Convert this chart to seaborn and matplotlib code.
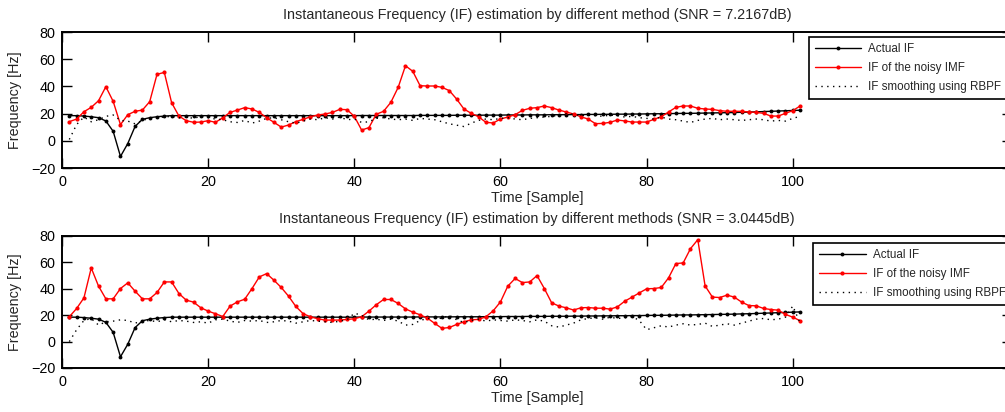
import numpy as np
import pandas as pd
import matplotlib
matplotlib.use("Agg")
import matplotlib.pyplot as plt
import seaborn as sns

# ---------------- data ----------------
samples = list(range(1, 102))

actual_if = [18.5, 18.5, 18.2, 17.7, 17.0, 14.6, 7.0, -11.5, -2.0, 10.6,
             15.8, 17.0, 17.7, 18.2, 18.5,
             18.5, 18.5, 18.5, 18.5, 18.5, 18.5, 18.5, 18.5, 18.5, 18.5, 18.5, 18.5, 18.5, 18.5, 18.5,
             18.5, 18.5, 18.5, 18.5, 18.5, 18.5, 18.5, 18.5, 18.5, 18.5, 18.6, 18.6, 18.6, 18.6, 18.6,
             18.6, 18.6, 18.6, 18.7, 18.7, 18.7, 18.7, 18.7, 18.8, 18.8, 18.8, 18.8, 18.9, 18.9, 18.9,
             19.0, 19.0, 19.0, 19.1, 19.1, 19.1, 19.2, 19.2, 19.2, 19.3, 19.3, 19.4, 19.4, 19.5, 19.5,
             19.6, 19.6, 19.7, 19.7, 19.8, 19.9, 19.9, 20.0, 20.1, 20.2, 20.2, 20.3, 20.4, 20.5, 20.6,
             20.7, 20.8, 21.0, 21.1, 21.3, 21.5, 21.7, 21.9, 22.1, 22.3, 22.5]

noisy_if_top = [14.1, 16.0, 21.4, 24.6, 29.5, 39.8, 29.0, 11.9, 19.2, 21.7,
                22.6, 28.8, 48.9, 50.3, 28.0, 18.2, 14.8, 13.6, 13.8, 14.8,
                13.6, 17.0, 20.9, 22.6, 24.4, 23.4, 20.9, 17.0, 13.6, 10.1,
                11.6, 14.1, 15.8, 17.7, 19.0, 19.7, 20.9, 23.1, 22.9, 18.0,
                7.9, 9.7, 19.5, 21.7, 28.3, 39.3, 55.2, 51.1, 40.5, 40.3,
                40.3, 39.3, 36.9, 30.7, 23.4, 20.2, 17.7, 13.6, 13.1, 16.0,
                17.5, 19.2, 22.4, 23.9, 24.4, 25.6, 24.4, 22.6, 21.2, 19.7,
                17.7, 16.0, 12.6, 12.8, 13.6, 15.3, 14.6, 13.8, 13.8, 13.8,
                15.8, 17.7, 21.2, 24.6, 25.6, 25.6, 23.9, 23.4, 23.1, 22.2,
                21.7, 21.7, 21.7, 21.2, 20.9, 20.2, 18.2, 18.2, 20.2, 22.2, 25.6]

rbpf_top = [1.0, 12.0, 17.5, 14.0, 15.5, 18.0, 19.0, 15.0, 14.5, 12.5,
            15.0, 16.5, 17.0, 17.5, 18.0, 17.0, 17.5, 16.5, 18.0, 17.0,
            16.0, 15.5, 14.0, 13.5, 15.0, 13.0, 14.5, 16.5, 17.0, 15.5,
            14.0, 13.0, 14.5, 16.0, 15.5, 17.0, 16.0, 17.5, 15.5, 16.0,
            13.5, 14.0, 16.5, 17.0, 16.0, 15.5, 16.0, 15.0, 16.5, 16.0,
            15.5, 14.0, 12.5, 11.5, 10.5, 13.0, 15.0, 16.0, 15.5, 16.5,
            17.0, 16.0, 15.5, 16.5, 17.0, 17.5, 18.0, 19.0, 20.0, 19.5,
            18.5, 19.0, 18.5, 18.0, 19.0, 18.5, 17.5, 18.0, 17.0, 16.5,
            16.0, 17.5, 16.0, 15.5, 14.5, 13.5, 15.0, 16.0, 16.5, 15.5,
            16.0, 15.5, 15.0, 15.5, 16.0, 15.5, 14.5, 15.0, 14.5, 16.5, 18.0]

noisy_if_bottom = [18.8, 25.1, 33.1, 55.8, 42.0, 32.4, 32.4, 40.2, 44.5, 38.2,
                   32.4, 32.4, 37.2, 45.2, 45.2, 36.4, 31.4, 29.9, 25.6, 23.1,
                   21.1, 19.0, 26.9, 30.1, 32.1, 40.2, 49.0, 51.5, 46.5, 41.0,
                   34.4, 26.6, 21.1, 18.8, 17.3, 16.3, 16.3, 16.3, 16.8, 17.3,
                   18.8, 23.1, 27.9, 31.9, 31.9, 28.9, 24.8, 22.3, 20.3, 17.8,
                   13.8, 10.0, 10.7, 13.0, 15.0, 16.5, 16.8, 18.8, 23.3, 30.1,
                   42.0, 47.8, 44.7, 45.2, 50.0, 40.2, 29.4, 26.9, 25.6, 23.9,
                   25.6, 25.8, 25.3, 25.3, 24.6, 26.3, 30.6, 33.7, 36.9, 40.0,
                   40.2, 41.0, 48.3, 59.1, 59.6, 70.4, 77.2, 42.2, 33.7, 33.4,
                   35.2, 33.7, 29.9, 27.3, 27.1, 25.1, 24.3, 23.8, 20.6, 18.5, 15.8]

rbpf_bottom = [0.0, 9.0, 16.0, 17.5, 12.5, 15.0, 15.5, 16.5, 16.0, 14.0,
               15.5, 16.0, 15.0, 16.5, 15.0, 16.0, 15.5, 14.5, 15.0, 14.0,
               16.5, 17.0, 15.5, 14.5, 16.0, 15.5, 16.0, 14.5, 15.0, 16.0,
               15.5, 14.0, 15.0, 16.0, 15.5, 15.0, 14.5, 15.5, 16.5, 21.5,
               20.0, 16.5, 17.0, 16.0, 17.0, 15.5, 12.5, 13.0, 16.0, 17.5,
               18.0, 17.5, 20.0, 16.5, 14.5, 16.0, 17.0, 15.5, 16.5, 16.0,
               15.5, 16.5, 16.0, 15.0, 16.5, 15.5, 12.0, 11.0, 12.5, 14.0,
               16.5, 17.5, 18.0, 17.0, 18.5, 17.5, 18.0, 19.0, 16.0, 9.0,
               10.5, 12.0, 11.0, 12.5, 13.5, 12.5, 13.0, 14.0, 11.5, 12.5,
               13.5, 12.5, 14.0, 15.5, 17.0, 17.5, 16.5, 17.0, 18.5, 27.0, 14.0]

titles = ["Instantaneous Frequency (IF) estimation by different method (SNR = 7.2167dB)",
          "Instantaneous Frequency (IF) estimation by different methods (SNR = 3.0445dB)"]
series_labels = ["Actual IF", "IF of the noisy IMF", "IF smoothing using RBPF"]
x_ticks = [0, 20, 40, 60, 80, 100]
y_ticks = [-20, 0, 20, 40, 60, 80]
x_label = "Time [Sample]"
y_label = "Frequency [Hz]"

# ---------------- style ----------------
sns.set_theme(style="ticks")
plt.rcParams["font.family"] = ["Liberation Sans", "DejaVu Sans"]
plt.rcParams["axes.linewidth"] = 1.4

fig = plt.figure(figsize=(10.05, 4.12), dpi=100)
axes_pos = [[0.0617, 0.5922, 0.9453, 0.3301],
            [0.0617, 0.1068, 0.9453, 0.3204]]
legend_anchor = [(0.786, 0.963), (0.7905, 0.947)]
panels = [(noisy_if_top, rbpf_top), (noisy_if_bottom, rbpf_bottom)]

for i, (noisy, rbpf) in enumerate(panels):
    ax = fig.add_axes(axes_pos[i])
    df = pd.DataFrame({"t": samples, "actual": actual_if, "noisy": noisy, "rbpf": rbpf})
    sns.lineplot(data=df, x="t", y="actual", ax=ax, color="black", lw=1.0,
                 marker="o", markersize=2.8, markeredgewidth=0, label=series_labels[0])
    sns.lineplot(data=df, x="t", y="noisy", ax=ax, color="#ff0000", lw=1.0,
                 marker="o", markersize=3.0, markeredgewidth=0, label=series_labels[1])
    sns.lineplot(data=df, x="t", y="rbpf", ax=ax, color="black", lw=1.0,
                 linestyle=(0, (1, 3.2)), label=series_labels[2])
    ax.set_xlim(0, 130)
    ax.set_ylim(-20, 80)
    ax.set_xticks(x_ticks)
    ax.set_yticks(y_ticks)
    ax.set_yticklabels([str(v).replace("-", "\u2212") for v in y_ticks])
    ax.tick_params(direction="in", length=7, width=1.0, top=True, right=True,
                   labelsize=10.4, colors="black", pad=5)
    for s in ax.spines.values():
        s.set_visible(True)
        s.set_color("black")
        s.set_linewidth(1.4)
    ax.set_xlabel(x_label, fontsize=10.4, labelpad=1.5)
    ax.set_ylabel(y_label, fontsize=10.4, labelpad=6)
    ax.set_title(titles[i], fontsize=10.4, pad=9.5)
    ax.grid(False)
    leg = ax.legend(loc="upper left", bbox_to_anchor=legend_anchor[i], borderaxespad=0,
                    fontsize=8.4, frameon=True, fancybox=False, framealpha=1,
                    edgecolor="black", handlelength=4.0, handletextpad=0.6,
                    labelspacing=0.62, borderpad=0.5)
    leg.get_frame().set_linewidth(1.2)

fig.savefig("out.png", dpi=100)
